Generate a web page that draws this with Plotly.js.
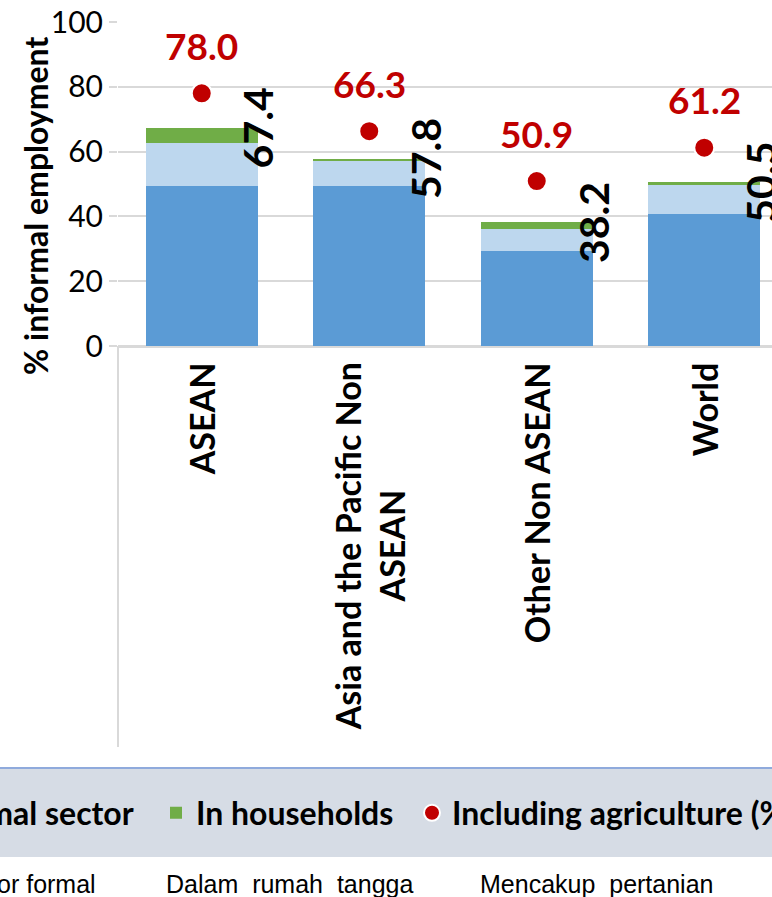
<!DOCTYPE html>
<html>
<head>
<meta charset="utf-8">
<script src="https://cdn.plot.ly/plotly-3.0.1.min.js"></script>
<style>
  html, body { margin: 0; padding: 0; width: 772px; height: 897px; overflow: hidden; background: #fff; }
  #chart { position: absolute; left: -700px; top: 0; width: 1520px; height: 897px; }
</style>
</head>
<body>
<div id="chart"></div>
<script>
// Informal employment (% of total employment, excluding agriculture) by component
const categories = ["ASEAN", "Asia and the Pacific Non<br>ASEAN", "Other Non ASEAN", "World"];
const informalSector = [49.4, 49.4, 29.4, 40.8];
const formalSector = [13.3, 7.6, 6.8, 8.9];
const households = [4.7, 0.8, 2.0, 0.8];
const totals = [67.4, 57.8, 38.2, 50.5];
const includingAgriculture = [78.0, 66.3, 50.9, 61.2];
const yTicks = [0, 20, 40, 60, 80, 100];
const seriesNames = ["In the informal sector", "In the formal sector", "In households", "Including agriculture (%)"];
const seriesNamesId = ["Sektor informal", "Sektor formal", "Dalam\u00A0 rumah\u00A0 tangga", "Mencakup\u00A0 pertanian"];

// The figure is wider than the window; it is shifted left so the plot sits at the window edge.
const SHIFT = 700;
const PLOT_LEFT = 118, PLOT_W = 670, PLOT_TOP = 22, PLOT_H = 324;
const FIG_W = 1520, FIG_H = 897;
const BAR_W = 0.669;

const xp = vx => (vx - PLOT_LEFT) / PLOT_W;
const yp = py => (PLOT_TOP + PLOT_H - py) / PLOT_H;

const BASE = 'Lato, "Open Sans", sans-serif';
const bold = (size, color) => ({ family: BASE, size: size, weight: 700, color: color || '#000' });

const traces = [
  { type: 'bar', name: seriesNames[0], x: categories, y: informalSector, width: BAR_W,
    marker: { color: '#5B9BD5' }, legendwidth: 320, hoverinfo: 'skip' },
  { type: 'bar', name: seriesNames[1], x: categories, y: formalSector, width: BAR_W,
    marker: { color: '#BDD7EE' }, legendwidth: 296, hoverinfo: 'skip' },
  { type: 'bar', name: seriesNames[2], x: categories, y: households, width: BAR_W,
    marker: { color: '#70AD47' }, legendwidth: 211, hoverinfo: 'skip' },
  { type: 'scatter', mode: 'markers', name: seriesNames[3], x: categories, y: includingAgriculture,
    marker: { size: 20, color: '#C00000', line: { color: '#FFFFFF', width: 2 } },
    cliponaxis: false, hoverinfo: 'skip' }
];

const annotations = [];

// value axis title
annotations.push({
  xref: 'paper', yref: 'paper', x: xp(35), y: yp(206), xanchor: 'center', yanchor: 'middle',
  showarrow: false, text: '% informal employment', textangle: -90, font: bold(32)
});

categories.forEach((c, i) => {
  // category names under the axis
  annotations.push({
    xref: 'x', yref: 'paper', x: i, y: yp(360), xanchor: 'center', yanchor: 'top',
    showarrow: false, text: c, textangle: -90, align: 'center', font: bold(34)
  });
  // stacked total at the top right corner of each bar
  annotations.push({
    xref: 'x', yref: 'y', x: i + BAR_W / 2, y: totals[i], xanchor: 'center', yanchor: 'middle',
    showarrow: false, text: totals[i].toFixed(1), textangle: -90, font: bold(41)
  });
  // value including agriculture above each dot
  annotations.push({
    xref: 'x', yref: 'y', x: i, y: includingAgriculture[i], yshift: 48,
    showarrow: false, text: includingAgriculture[i].toFixed(1), font: bold(37, '#C00000')
  });
});

// Indonesian captions under the legend
const captionPos = [[-330, 'right'], [98, 'right'], [164, 'left'], [478, 'left']];
seriesNamesId.forEach((t, i) => {
  annotations.push({
    xref: 'paper', yref: 'paper', x: xp(captionPos[i][0]), y: yp(884),
    xanchor: captionPos[i][1], yanchor: 'middle', showarrow: false, text: t,
    font: { family: '"Liberation Sans", Arial, sans-serif', size: 25, color: '#000' }
  });
});

const shapes = [
  // legend band
  { type: 'rect', xref: 'paper', yref: 'paper', x0: xp(-900), x1: xp(900), y0: yp(857), y1: yp(768),
    fillcolor: '#D6DCE5', line: { width: 0 }, layer: 'below' },
  { type: 'line', xref: 'paper', yref: 'paper', x0: xp(-900), x1: xp(900), y0: yp(768), y1: yp(768),
    line: { color: '#8FAADC', width: 2 } },
  // divider at the left of the category labels
  { type: 'line', xref: 'paper', yref: 'paper', x0: 0, x1: 0, y0: 0, y1: yp(747),
    line: { color: '#D9D9D9', width: 2 } }
];

const layout = {
  width: FIG_W, height: FIG_H,
  margin: { l: SHIFT + PLOT_LEFT, r: FIG_W - SHIFT - PLOT_LEFT - PLOT_W, t: PLOT_TOP, b: FIG_H - PLOT_TOP - PLOT_H, autoexpand: false },
  paper_bgcolor: '#FFFFFF', plot_bgcolor: '#FFFFFF',
  barmode: 'stack',
  showlegend: true,
  legend: {
    orientation: 'h', x: xp(-550), xanchor: 'left', y: yp(813), yanchor: 'middle',
    font: bold(32), bgcolor: 'rgba(0,0,0,0)', traceorder: 'normal'
  },
  xaxis: {
    type: 'category', range: [-0.5, 3.5], showticklabels: false, ticks: '',
    showgrid: false, zeroline: false, showline: false, fixedrange: true
  },
  yaxis: {
    range: [0, 100], tickmode: 'array', tickvals: yTicks, ticktext: yTicks.map(String),
    ticks: 'outside', ticklen: 8, tickwidth: 2, tickcolor: '#D9D9D9',
    showgrid: true, gridcolor: '#D9D9D9', gridwidth: 2,
    zeroline: true, zerolinecolor: '#D9D9D9', zerolinewidth: 3,
    showline: false, tickfont: { family: BASE, size: 30, color: '#000' }, fixedrange: true
  },
  annotations: annotations,
  shapes: shapes
};

Plotly.newPlot('chart', traces, layout, { staticPlot: true, displayModeBar: false });
</script>
</body>
</html>
